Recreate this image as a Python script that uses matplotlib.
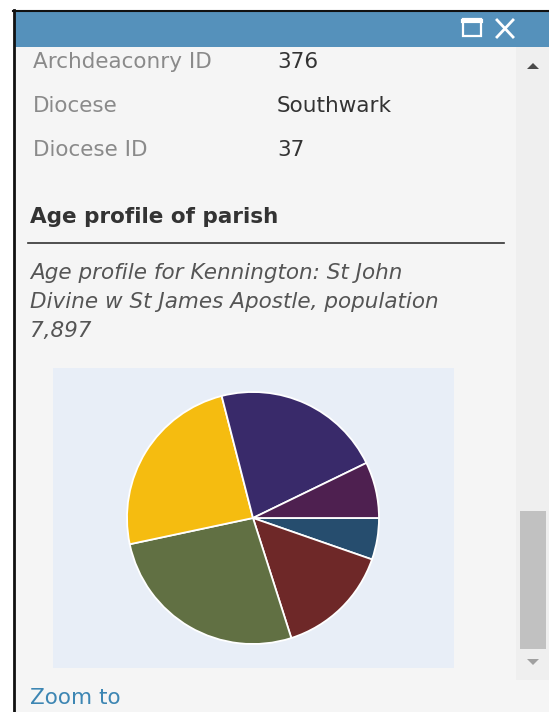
import matplotlib
matplotlib.use("Agg")
import matplotlib.pyplot as plt
from matplotlib.patches import Rectangle, Polygon

# popup content
field_names = ["Archdeaconry ID", "Diocese", "Diocese ID"]
field_values = ["376", "Southwark", "37"]
heading = "Age profile of parish"
caption = ["Age profile for Kennington: St John",
           "Divine w St James Apostle, population",
           "7,897"]

# age bands, clockwise from 3 o'clock
age_bands = ["0-15", "16-29", "30-44", "45-64", "65-74", "75+"]
people = [421, 1165, 2099, 1922, 1722, 568]
band_colors = ["#264d6e", "#6e2828", "#617043", "#f5bc10", "#392a6a", "#4e2050"]

W, H = 549, 712
FS = 15.5
fig = plt.figure(figsize=(W / 100, H / 100), dpi=100)
fig.patch.set_facecolor("white")

# base axes in pixel coords (y down)
bg = fig.add_axes([0, 0, 1, 1])
bg.set_xlim(0, W)
bg.set_ylim(H, 0)
bg.axis("off")

# panel + border
bg.add_patch(Rectangle((14, 11), W - 14, H - 11, facecolor="#f5f5f5", edgecolor="none"))
bg.plot([14, 14], [10, H], color="#111111", lw=2)
bg.plot([13, W], [10.5, 10.5], color="#111111", lw=1.5)

# title bar
bg.add_patch(Rectangle((14, 11), W - 14, 36, facecolor="#5591bb", edgecolor="none"))
bg.add_patch(Rectangle((463, 19), 18, 17, facecolor="none", edgecolor="white", lw=1.6))
bg.plot([463, 481], [20.5, 20.5], color="white", lw=3)
bg.plot([497, 513], [20, 37], color="white", lw=2)
bg.plot([497, 513], [37, 20], color="white", lw=2)

# scrollbar
bg.add_patch(Rectangle((516, 47), W - 516, 633, facecolor="#efefef", edgecolor="none"))
bg.add_patch(Rectangle((520, 511), 26, 138, facecolor="#c1c1c1", edgecolor="none"))
bg.add_patch(Polygon([[527, 69], [539, 69], [533, 63]], closed=True, facecolor="#4a4a4a", edgecolor="none"))
bg.add_patch(Polygon([[527, 659], [539, 659], [533, 665]], closed=True, facecolor="#a0a0a0", edgecolor="none"))

# attribute rows
for i, (name, val) in enumerate(zip(field_names, field_values)):
    y = 62 + i * 44
    bg.text(33, y, name, fontsize=FS, color="#8a8a8a", va="center", ha="left")
    bg.text(277, y, val, fontsize=FS, color="#333333", va="center", ha="left")

# heading + rule
bg.text(30, 217, heading, fontsize=FS, fontweight="bold", color="#333333", va="center", ha="left")
bg.plot([28, 504], [243, 243], color="#333333", lw=1.2)

for i, line in enumerate(caption):
    bg.text(30, 273 + i * 29, line, fontsize=FS, style="italic", color="#555555", va="center", ha="left")

bg.text(30, 698, "Zoom to", fontsize=FS, color="#3d86b3", va="center", ha="left")

# chart background
bg.add_patch(Rectangle((53, 368), 401, 300, facecolor="#e8eef7", edgecolor="none"))

# pie axes over the chart area, pixel units (y up)
left, top, pw, ph = 53, 368, 401, 300
ax = fig.add_axes([left / W, (H - top - ph) / H, pw / W, ph / H])
cx, cy = 253, H - 518
ax.pie(people, colors=band_colors, startangle=0, counterclock=False,
       center=(cx, cy), radius=126,
       wedgeprops=dict(edgecolor="white", linewidth=1.3))
ax.set_xlim(left, left + pw)
ax.set_ylim(H - top - ph, H - top)
ax.set_aspect("auto")
ax.axis("off")

fig.savefig("out.png", dpi=100)
